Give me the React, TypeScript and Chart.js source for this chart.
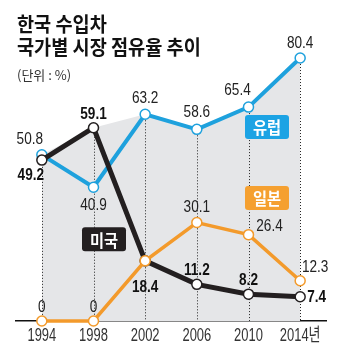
import React, { useEffect, useRef } from "react";
import { Chart, registerables } from "chart.js";

Chart.register(...registerables);

// ---------- data ----------
const years = ["1994", "1998", "2002", "2006", "2010", "2014년"];
const europe = [50.8, 40.9, 63.2, 58.6, 65.4, 80.4];
const usa = [49.2, 59.1, 18.4, 11.2, 8.2, 7.4];
const japan = [0, 0, 18.4, 30.1, 26.4, 12.3];
const envelope = europe.map((v, i) => Math.max(v, usa[i], japan[i]));

const titleLines = ["한국 수입차", "국가별 시장 점유율 추이"];
const unitLabel = "(단위 : %)";

// ---------- styles ----------
const C_EU = "#1ea1dd";
const C_US = "#231f20";
const C_JP = "#f39a2b";
const C_FILL = "#e5e6e8";

// label offsets (dx, dy) relative to each point; null = no label
type Off = [number, number] | null;
const euOffsets: Off[] = [[-12, -16], [0, 18], [0, -16], [0, -17], [-11, -17], [0, -15]];
const usOffsets: Off[] = [[-11, 15], [0, -13], [0, 26], [0, -14], [0, -14], [7, 1]];
const jpOffsets: Off[] = [[0, -14], [0, -14], null, [0, -15], [21, -8], [15, -13]];

const legendBoxes = [
  { text: "유럽", color: "#1ca3e4", index: 4, value: 63.0, dx: -3.5 },
  { text: "일본", color: "#f5a030", index: 4, value: 41.3, dx: -3.5 },
  { text: "미국", color: "#231f20", index: 1, value: 28.7, dx: -11.5 },
];

function drawText(
  ctx: CanvasRenderingContext2D,
  text: string,
  x: number,
  y: number,
  font: string,
  color: string,
  sx: number,
  align: CanvasTextAlign = "center"
) {
  ctx.save();
  ctx.translate(x, y);
  ctx.scale(sx, 1);
  ctx.font = font;
  ctx.fillStyle = color;
  ctx.textAlign = align;
  ctx.textBaseline = "middle";
  ctx.fillText(text, 0, 0);
  ctx.restore();
}

const NUM_FONT = '17px "Liberation Sans", Arial, sans-serif';
const NUM_FONT_B = 'bold 17px "Liberation Sans", Arial, sans-serif';

const overlayPlugin = {
  id: "overlay",
  afterDatasetDraw(chart: any, args: any) {
    if (args.index !== 3) return;
    const ctx = chart.ctx as CanvasRenderingContext2D;
    const xs = chart.scales.x;
    const ys = chart.scales.y;
    ctx.save();
    ctx.strokeStyle = "#222";
    ctx.lineWidth = 1;
    ctx.setLineDash([1, 2]);
    envelope.forEach((v, i) => {
      const x = Math.round(xs.getPixelForValue(i)) + 0.5;
      ctx.beginPath();
      ctx.moveTo(x, ys.getPixelForValue(v));
      ctx.lineTo(x, ys.getPixelForValue(0));
      ctx.stroke();
    });
    ctx.restore();
  },
  afterDatasetsDraw(chart: any) {
    const ctx = chart.ctx as CanvasRenderingContext2D;
    const xs = chart.scales.x;
    const ys = chart.scales.y;
    const series: [number[], Off[], string, string][] = [
      [europe, euOffsets, NUM_FONT, "#222"],
      [usa, usOffsets, NUM_FONT_B, "#111"],
      [japan, jpOffsets, NUM_FONT, "#222"],
    ];
    series.forEach(([vals, offs, font, color]) => {
      vals.forEach((v, i) => {
        const o = offs[i];
        if (!o) return;
        const x = xs.getPixelForValue(i) + o[0];
        const y = ys.getPixelForValue(v) + o[1];
        const align: CanvasTextAlign = o[0] >= 7 && vals === usa ? "left" : "center";
        drawText(ctx, String(v), x, y, font, color, 0.8, align);
      });
    });
    // legend boxes
    legendBoxes.forEach((b) => {
      const x = xs.getPixelForValue(b.index) + b.dx;
      const y = ys.getPixelForValue(b.value);
      const w = 44;
      const h = 24;
      ctx.save();
      ctx.fillStyle = b.color;
      ctx.beginPath();
      (ctx as any).roundRect(x, y, w, h, 3);
      ctx.fill();
      ctx.restore();
      drawText(ctx, b.text, x + w / 2, y + h / 2 + 1, 'bold 17px "Noto Sans CJK KR", sans-serif', "#fff", 0.9);
    });
  },
  afterDraw(chart: any) {
    const ctx = chart.ctx as CanvasRenderingContext2D;
    const xs = chart.scales.x;
    const y = chart.chartArea.bottom + 15;
    years.forEach((label, i) => {
      drawText(ctx, label, xs.getPixelForValue(i), y, '18px "Liberation Sans", "Noto Sans CJK KR", sans-serif', "#333", 0.72);
    });
  },
};

export default function App() {
  const ref = useRef<HTMLCanvasElement>(null);
  useEffect(() => {
    if (!ref.current) return;
    const point = (c: string, bw: number) => ({
      borderColor: c,
      borderWidth: bw,
      pointRadius: 5,
      pointBackgroundColor: "#fff",
      pointBorderColor: c,
      pointBorderWidth: 1.5,
      tension: 0,
      fill: false,
      clip: false as any,
    });
    const chart = new Chart(ref.current, {
      type: "line",
      data: {
        labels: years,
        datasets: [
          { label: "일본", data: japan, ...point(C_JP, 3.5) },
          { label: "미국", data: usa, ...point(C_US, 5) },
          { label: "유럽", data: europe, ...point(C_EU, 4) },
          {
            label: "envelope",
            data: envelope,
            borderWidth: 0,
            pointRadius: 0,
            backgroundColor: C_FILL,
            fill: "origin",
            tension: 0,
          },
        ],
      },
      plugins: [overlayPlugin],
      options: {
        responsive: false,
        animation: false,
        events: [],
        layout: { padding: { top: 43, left: 16, right: 24, bottom: 32 } },
        plugins: { legend: { display: false }, tooltip: { enabled: false }, title: { display: false } },
        scales: {
          x: {
            type: "category",
            offset: true,
            grid: { display: false, drawTicks: false },
            ticks: { display: false },
            border: { display: true, color: "#111", width: 1.5 },
          },
          y: { display: false, min: 0, max: 85 },
        },
      },
    });
    return () => chart.destroy();
  }, []);

  return (
    <div style={{ position: "absolute", left: 0, top: 0, width: 350, height: 353, background: "#fff", overflow: "hidden" }}>
      <canvas ref={ref} width={350} height={353} style={{ position: "absolute", left: 0, top: 0, width: 350, height: 353 }} />
      <div
        style={{
          position: "absolute",
          left: 17,
          top: 12,
          fontFamily: '"Noto Sans CJK KR", sans-serif',
          fontWeight: 700,
          fontSize: 20,
          lineHeight: "23px",
          color: "#111",
          transform: "scaleX(0.93)",
          transformOrigin: "left top",
          whiteSpace: "nowrap",
        }}
      >
        {titleLines.map((t) => (
          <div key={t}>{t}</div>
        ))}
      </div>
      <div
        style={{
          position: "absolute",
          left: 17,
          top: 66,
          fontFamily: '"Noto Sans CJK KR", sans-serif',
          fontSize: 13,
          lineHeight: "18px",
          color: "#333",
          whiteSpace: "nowrap",
        }}
      >
        {unitLabel}
      </div>
    </div>
  );
}
